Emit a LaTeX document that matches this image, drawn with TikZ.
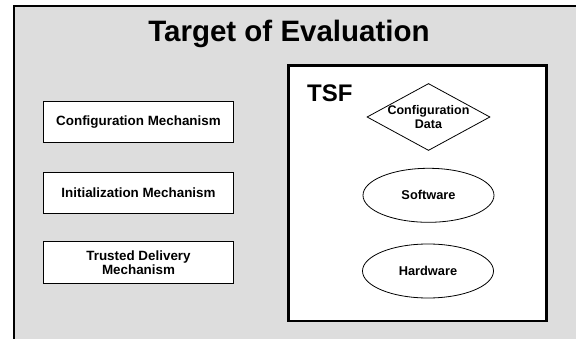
\documentclass[tikz,border=0pt]{standalone}
\usepackage{fontspec}
\setmainfont{Liberation Sans}
\usepackage{xcolor}
\usepackage{tikz}
\usetikzlibrary{shapes.geometric}
\definecolor{TOEgray}{RGB}{221,221,221}
\tikzset{
  mech/.style={rectangle, draw=black, fill=white, line width=1pt,
               minimum width=190pt, minimum height=41pt, inner sep=0pt,
               font=\fontsize{13.4}{14}\selectfont\bfseries, align=center},
  part/.style={ellipse, draw=black, fill=white, line width=0.8pt,
               minimum width=131pt, minimum height=54pt, inner sep=0pt,
               font=\fontsize{12.8}{14.5}\selectfont\bfseries},
}

\begin{document}
\begin{tikzpicture}[x=1pt, y=-1pt]
        \useasboundingbox (0,0) rectangle (576,339);
        \clip (0,0) rectangle (576,339);
        % target of evaluation (runs off the page on the right and bottom)
        \fill[TOEgray] (13.8,5.7) rectangle (600,360);
        \draw[line width=2pt] (600,5.7) -- (13.8,5.7) -- (13.8,360);
        \node[anchor=base, font=\fontsize{29.5}{31}\selectfont\bfseries] (toe)
              at (289,41.7) {Target of Evaluation};

        \node[mech] (cfgmech) at (138.5,122) {Configuration Mechanism};
        \node[mech] (initmech) at (138.5,192.7) {Initialization Mechanism};
        \node[mech, minimum height=42pt] (delivmech) at (138.5,262.9)
              {Trusted Delivery\\Mechanism};

        % TSF
        \node[rectangle, draw=black, fill=white, line width=2.5pt,
              minimum width=257.6pt, minimum height=255.3pt, inner sep=0pt]
              (tsf) at (417.5,193.3) {};
        \node[anchor=base west, font=\fontsize{24}{26}\selectfont\bfseries]
              (tsflabel) at (303.7,101.7) {TSF};
        \node[diamond, draw=black, fill=white, line width=0.8pt,
              minimum width=123pt, minimum height=67pt, inner sep=0pt,
              label={[align=center, font=\fontsize{12.5}{14.5}\selectfont\bfseries]
                     center:Configuration\\Data}]
              (cfgdata) at (428.5,117) {};
        \node[part] (sw) at (428.5,195.3) {Software};
        \node[part] (hw) at (428,271) {Hardware};
      \end{tikzpicture}
\end{document}
